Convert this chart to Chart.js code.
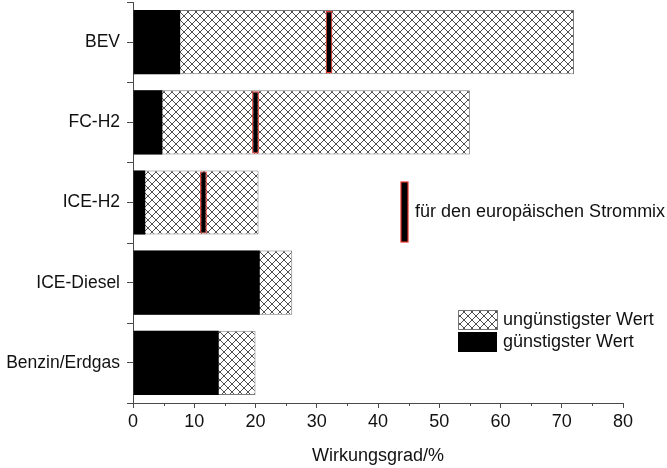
<!DOCTYPE html>
<html>
<head>
<meta charset="utf-8">
<script src="https://cdn.jsdelivr.net/npm/chart.js@4/dist/chart.umd.min.js"></script>
<style>
  html, body { margin: 0; padding: 0; background: #fff; }
  #wrap { width: 667px; height: 468px; position: relative; }
</style>
</head>
<body>
<div id="wrap"><canvas id="c"></canvas></div>
<script>
// Antriebsarten und Wirkungsgrade (in %)
const categories = ['BEV', 'FC-H2', 'ICE-H2', 'ICE-Diesel', 'Benzin/Erdgas'];
const bestValues = [7.7, 4.8, 2, 20.7, 14];       // günstigster Wert
const worstValues = [72, 55, 20.5, 26, 20];       // ungünstigster Wert
const strommixValues = [32, 20, 11.5, null, null]; // europäischer Strommix
const xTicks = [0, 10, 20, 30, 40, 50, 60, 70, 80];

const FONT = 'Liberation Sans, Arial, Helvetica, sans-serif';
const AXIS = '#4a4a4a';
const MARK_HALF = 0.55;

// Kreuzschraffur als Füllmuster
function makeHatch() {
  const s = 8;
  const cv = document.createElement('canvas');
  cv.width = s; cv.height = s;
  const g = cv.getContext('2d');
  g.fillStyle = '#fff';
  g.fillRect(0, 0, s, s);
  g.strokeStyle = '#505050';
  g.lineWidth = 1;
  g.beginPath();
  g.moveTo(-1, -1); g.lineTo(s + 1, s + 1);
  g.moveTo(-1, s + 1); g.lineTo(s + 1, -1);
  g.stroke();
  return g.createPattern(cv, 'repeat');
}
const hatch = makeHatch();

const markerData = strommixValues.map(v => v == null ? null : [v - MARK_HALF, v + MARK_HALF]);

// Zusätzliche Teilstriche und Legende
const extras = {
  id: 'extras',
  afterDraw(chart) {
    const ctx = chart.ctx;
    const xs = chart.scales.x, ys = chart.scales.y;
    const area = chart.chartArea;
    ctx.save();
    ctx.strokeStyle = AXIS;
    ctx.lineWidth = 1;
    ctx.beginPath();
    // Zwischenstriche der Kategorieachse
    for (let i = 0; i <= categories.length; i++) {
      const y = Math.round(ys.getPixelForValue(i - 0.5)) + 0.5;
      ctx.moveTo(area.left - 6, y); ctx.lineTo(area.left, y);
    }
    // Nebenstriche der Wertachse
    for (let i = 0; i < xTicks.length - 1; i++) {
      const x = Math.round(xs.getPixelForValue((xTicks[i] + xTicks[i + 1]) / 2)) + 0.5;
      ctx.moveTo(x, area.bottom); ctx.lineTo(x, area.bottom + 3);
    }
    ctx.stroke();

    // Legende: Strommix-Markierung
    ctx.fillStyle = '#000';
    ctx.fillRect(401, 182, 7, 60);
    ctx.strokeStyle = '#e8322a';
    ctx.lineWidth = 1.2;
    ctx.strokeRect(401, 182, 7, 60);
    ctx.fillStyle = '#111';
    ctx.font = '18px ' + FONT;
    ctx.textBaseline = 'middle';
    ctx.textAlign = 'left';
    ctx.fillText('für den europäischen Strommix', 415, 212);

    // Legende: Schraffur und Schwarz
    ctx.fillStyle = hatch;
    ctx.fillRect(458, 310, 39, 19);
    ctx.strokeStyle = '#777';
    ctx.lineWidth = 1;
    ctx.strokeRect(458.5, 310.5, 39, 19);
    ctx.fillStyle = '#000';
    ctx.fillRect(458, 332, 39, 20);
    ctx.fillStyle = '#111';
    ctx.fillText('ungünstigster Wert', 503, 320);
    ctx.fillText('günstigster Wert', 503, 342);
    ctx.restore();
  }
};

new Chart(document.getElementById('c'), {
  type: 'bar',
  data: {
    labels: categories,
    datasets: [
      {
        label: 'Strommix',
        data: markerData,
        backgroundColor: '#000',
        borderColor: '#e8322a',
        borderWidth: 1.2,
        borderSkipped: false,
        categoryPercentage: 0.8,
        barPercentage: 0.97
      },
      {
        label: 'günstigster Wert',
        data: bestValues,
        backgroundColor: '#000',
        borderWidth: 0,
        categoryPercentage: 0.8,
        barPercentage: 1
      },
      {
        label: 'ungünstigster Wert',
        data: worstValues,
        backgroundColor: hatch,
        borderColor: '#7a7a7a',
        borderWidth: 1,
        borderSkipped: false,
        categoryPercentage: 0.8,
        barPercentage: 1
      }
    ]
  },
  options: {
    indexAxis: 'y',
    responsive: true,
    maintainAspectRatio: false,
    animation: false,
    layout: { padding: { left: 0, top: 2, right: 44, bottom: 0 } },
    plugins: {
      legend: { display: false },
      tooltip: { enabled: false }
    },
    scales: {
      x: {
        type: 'linear',
        min: 0,
        max: 80,
        stacked: false,
        afterFit(s) { s.height = 65; s.paddingLeft = 0; s.paddingRight = 0; },
        afterBuildTicks(s) { s.ticks = xTicks.map(v => ({ value: v })); },
        grid: { display: true, drawOnChartArea: false, drawTicks: true, tickLength: 5, color: AXIS },
        border: { display: true, color: AXIS, width: 1 },
        ticks: { color: '#111', font: { family: FONT, size: 18 }, padding: 3, maxRotation: 0 },
        title: { display: true, text: 'Wirkungsgrad/%', color: '#111', font: { family: FONT, size: 18 }, padding: { top: 0, bottom: 1 } }
      },
      y: {
        type: 'category',
        stacked: true,
        offset: true,
        afterFit(s) { s.width = 133; s.paddingTop = 0; s.paddingBottom = 0; },
        grid: { display: true, offset: false, drawOnChartArea: false, drawTicks: true, tickLength: 6, color: AXIS },
        border: { display: true, color: AXIS, width: 1 },
        ticks: { color: '#111', font: { family: FONT, size: 17.5 }, padding: 7 }
      }
    }
  },
  plugins: [extras]
});
</script>
</body>
</html>
